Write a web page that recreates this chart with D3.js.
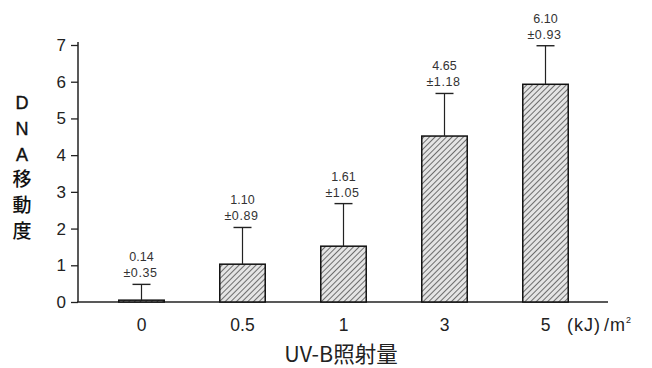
<!DOCTYPE html>
<html><head><meta charset="utf-8">
<script src="https://cdn.jsdelivr.net/npm/d3@7"></script>
<style>body{margin:0;background:#fff}svg{display:block}</style>
</head><body><svg id="c" width="652" height="368"></svg>
<script>
const categories = ["0", "0.5", "1", "3", "5"];
const barHeights = [0.05, 1.03, 1.52, 4.52, 5.93];   // drawn bar tops
const errorTops  = [0.48, 2.03, 2.68, 5.68, 6.98];   // drawn error caps
const meanLabels = ["0.14", "1.10", "1.61", "4.65", "6.10"];
const sdLabels   = ["±0.35", "±0.89", "±1.05", "±1.18", "±0.93"];
const yTicks = [0, 1, 2, 3, 4, 5, 6, 7];
const yLabelChars = ["D", "N", "A", "移", "動", "度"];
const xTitle = "UV-B照射量";

const svg = d3.select("#c");
const font = "'Liberation Sans', Arial, sans-serif";
const cjk = "'Noto Sans CJK JP', sans-serif";
const y = d3.scaleLinear().domain([0, 7]).range([302, 45]);
const x = d3.scaleBand().domain(categories).range([91, 596]).paddingInner(0.55).paddingOuter(0.275);

const defs = svg.append("defs");
const pat = defs.append("pattern").attr("id", "hatch").attr("patternUnits", "userSpaceOnUse")
  .attr("width", 4).attr("height", 4).attr("patternTransform", "rotate(45)");
pat.append("rect").attr("width", 4).attr("height", 4).attr("fill", "#e4e4e4");
pat.append("line").attr("x1", 0).attr("y1", 0).attr("x2", 0).attr("y2", 4)
  .attr("stroke", "#3a3a3a").attr("stroke-width", 1.4);

// y axis
const yAxis = svg.append("g").attr("transform", "translate(78,0)")
  .call(d3.axisLeft(y).tickValues(yTicks).tickSize(7).tickPadding(5).tickFormat(d3.format("d")));
yAxis.select(".domain").attr("stroke", "#222").attr("stroke-width", 1.5).attr("d", "M0,302V42");
yAxis.selectAll(".tick line").attr("stroke", "#222").attr("stroke-width", 1.3);
yAxis.selectAll(".tick text").attr("font-family", font).attr("font-size", 17).attr("fill", "#222");

// x axis line
svg.append("line").attr("x1", 77).attr("x2", 608).attr("y1", y(0)).attr("y2", y(0))
  .attr("stroke", "#222").attr("stroke-width", 1.6);

// bars
svg.selectAll("rect.bar").data(categories).enter().append("rect").attr("class", "bar")
  .attr("x", d => x(d)).attr("width", x.bandwidth())
  .attr("y", (d, i) => y(barHeights[i])).attr("height", (d, i) => y(0) - y(barHeights[i]))
  .attr("fill", "url(#hatch)").attr("stroke", "#111").attr("stroke-width", 1.5);

// error bars
const cx = d => x(d) + x.bandwidth() / 2;
svg.selectAll("line.err").data(categories).enter().append("line").attr("class", "err")
  .attr("x1", cx).attr("x2", cx)
  .attr("y1", (d, i) => y(barHeights[i])).attr("y2", (d, i) => y(errorTops[i]))
  .attr("stroke", "#222").attr("stroke-width", 1.2);
svg.selectAll("line.cap").data(categories).enter().append("line").attr("class", "cap")
  .attr("x1", d => cx(d) - 9).attr("x2", d => cx(d) + 9)
  .attr("y1", (d, i) => y(errorTops[i])).attr("y2", (d, i) => y(errorTops[i]))
  .attr("stroke", "#222").attr("stroke-width", 1.4);

// value labels
svg.selectAll("text.mean").data(categories).enter().append("text").attr("class", "mean")
  .attr("x", cx).attr("y", (d, i) => y(errorTops[i]) - 23)
  .attr("text-anchor", "middle").attr("font-family", font).attr("font-size", 12.5).attr("fill", "#333")
  .text((d, i) => meanLabels[i]);
svg.selectAll("text.sd").data(categories).enter().append("text").attr("class", "sd")
  .attr("x", d => cx(d) - 1).attr("y", (d, i) => y(errorTops[i]) - 7)
  .attr("text-anchor", "middle").attr("font-family", font).attr("font-size", 12.5).attr("fill", "#333")
  .attr("letter-spacing", 0.6)
  .text((d, i) => sdLabels[i]);

// x tick labels
svg.selectAll("text.xt").data(categories).enter().append("text").attr("class", "xt")
  .attr("x", cx).attr("y", 331).attr("text-anchor", "middle")
  .attr("font-family", font).attr("font-size", 17.5).attr("fill", "#222").text(d => d);

// unit
const u = svg.append("text").attr("x", 567).attr("y", 331).attr("font-family", font)
  .attr("font-size", 18).attr("fill", "#222").attr("letter-spacing", 1);
u.append("tspan").text("(kJ)");
u.append("tspan").attr("dx", 3).text("/m");
u.append("tspan").attr("font-size", 9).attr("dy", -8).text("2");

// x title
svg.append("text").attr("x", 341).attr("y", 362).attr("text-anchor", "middle")
  .attr("font-family", cjk).attr("font-size", 21.5)
  .attr("fill", "#222").text(xTitle);

// y title
svg.selectAll("text.yl").data(yLabelChars).enter().append("text").attr("class", "yl")
  .attr("x", 22).attr("y", (d, i) => 109 + i * 25.8).attr("text-anchor", "middle")
  .attr("font-family", (d, i) => i < 3 ? font : cjk).attr("font-size", (d, i) => i < 3 ? 18 : 19)
  .attr("font-weight", (d, i) => i < 3 ? 400 : 500)
  .attr("stroke", (d, i) => i < 3 ? "#111" : "none").attr("stroke-width", 0.4)
  .attr("fill", "#111").text(d => d);
</script></body></html>
